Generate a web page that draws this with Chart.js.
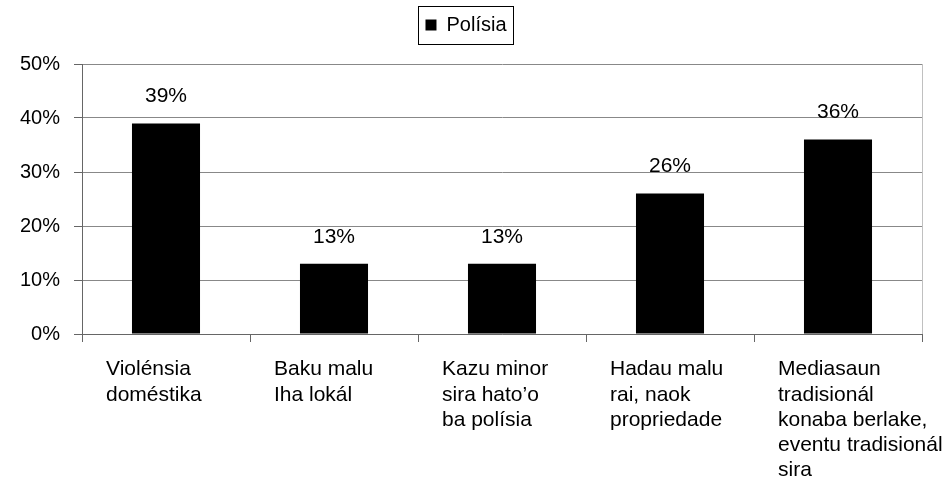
<!DOCTYPE html>
<html>
<head>
<meta charset="utf-8">
<title>Polísia</title>
<script src="https://cdn.jsdelivr.net/npm/chart.js@4.4.1/dist/chart.umd.min.js"></script>
<style>
  html, body { margin: 0; padding: 0; background: #fff; }
</style>
</head>
<body>
<canvas id="barChart" width="951" height="477"></canvas>
<script>
// data
const categories = [
    ['Violénsia', 'doméstika'],
    ['Baku malu', 'Iha lokál'],
    ['Kazu minor', 'sira hato\u2019o', 'ba polísia'],
    ['Hadau malu', 'rai, naok', 'propriedade'],
    ['Mediasaun', 'tradisionál', 'konaba berlake,', 'eventu tradisionál', 'sira']
];
const seriesName = 'Polísia';
const policeValues = [39, 13, 13, 26, 36];
const yTicks = [0, 10, 20, 30, 40, 50];

const FONT = "'Liberation Sans', Arial, sans-serif";

// value labels above each bar
const barValues = {
    id: 'barValues',
    afterDatasetsDraw(chart) {
        const ctx = chart.ctx;
        const meta = chart.getDatasetMeta(0);
        ctx.save();
        ctx.font = '21px ' + FONT;
        ctx.fillStyle = '#000';
        ctx.textAlign = 'center';
        ctx.textBaseline = 'middle';
        meta.data.forEach(function (bar, i) {
            ctx.fillText(policeValues[i] + '%', bar.x, bar.y - 27);
        });
        ctx.restore();
    }
};

// frame round the legend and light border on the right of the plot
const frames = {
    id: 'frames',
    afterDraw(chart) {
        const ctx = chart.ctx;
        const area = chart.chartArea;
        ctx.save();
        ctx.strokeStyle = '#c0c0c0';
        ctx.lineWidth = 1;
        ctx.beginPath();
        ctx.moveTo(Math.round(area.right) + 0.5, area.top);
        ctx.lineTo(Math.round(area.right) + 0.5, area.bottom);
        ctx.stroke();

        const hb = chart.legend.legendHitBoxes[0];
        if (hb) {
            const cy = hb.top + hb.height / 2;
            ctx.strokeStyle = '#000';
            ctx.strokeRect(Math.round(hb.left - 7) + 0.5, Math.round(cy - 19) + 0.5,
                Math.round(hb.width + 14), 38);
        }
        ctx.restore();
    }
};

// extra space under the legend before the plot starts
const legendGap = {
    id: 'legendGap',
    beforeUpdate(chart) {
        const legend = chart.legend;
        if (!legend || legend._gapAdded) return;
        const fit = legend.fit;
        legend.fit = function () {
            fit.call(this);
            this.height += 19;
        };
        legend._gapAdded = true;
    }
};

// category labels: lines left aligned, block pulled left of the tick centre
const labelShift = {
    id: 'labelShift',
    beforeDraw(chart) {
        chart.scales.x.getLabelItems().forEach(function (item) {
            if (item._shifted) return;
            item.options.textAlign = 'left';
            item.options.translation[0] -= 60;
            item._shifted = true;
        });
    }
};

const ctx = document.getElementById('barChart').getContext('2d');
const myChart = new Chart(ctx, {
    type: 'bar',
    data: {
        labels: categories,
        datasets: [{
            label: seriesName,
            data: policeValues,
            backgroundColor: '#000',
            borderColor: '#000',
            borderWidth: 0,
            barPercentage: 0.405,
            categoryPercentage: 1
        }]
    },
    plugins: [barValues, frames, legendGap, labelShift],
    options: {
        responsive: false,
        animation: false,
        devicePixelRatio: 1,
        layout: {
            padding: { top: 5, right: 29, bottom: 0, left: 10 }
        },
        plugins: {
            legend: {
                position: 'top',
                labels: {
                    boxWidth: 11,
                    boxHeight: 11,
                    padding: 10,
                    color: '#000',
                    font: { family: FONT, size: 20 }
                }
            },
            tooltip: { enabled: false }
        },
        scales: {
            x: {
                offset: true,
                grid: {
                    offset: true,
                    drawOnChartArea: false,
                    tickLength: 8,
                    tickColor: '#666'
                },
                border: { color: '#666' },
                ticks: {
                    color: '#000',
                    font: { family: FONT, size: 21, lineHeight: 1.2 },
                    padding: 15,
                    autoSkip: false,
                    maxRotation: 0,
                    minRotation: 0
                },
                afterFit(scale) {
                    scale.height = 143;
                }
            },
            y: {
                min: 0,
                max: 50,
                afterBuildTicks(scale) {
                    scale.ticks = yTicks.map(function (v) { return { value: v }; });
                },
                grid: {
                    color: '#888',
                    tickLength: 8,
                    tickColor: '#666'
                },
                border: { color: '#666' },
                ticks: {
                    color: '#000',
                    font: { family: FONT, size: 20 },
                    padding: 14,
                    callback: function (v) { return v + '%'; }
                },
                afterFit(scale) {
                    scale.width = 72;
                }
            }
        }
    }
});
</script>
</body>
</html>
